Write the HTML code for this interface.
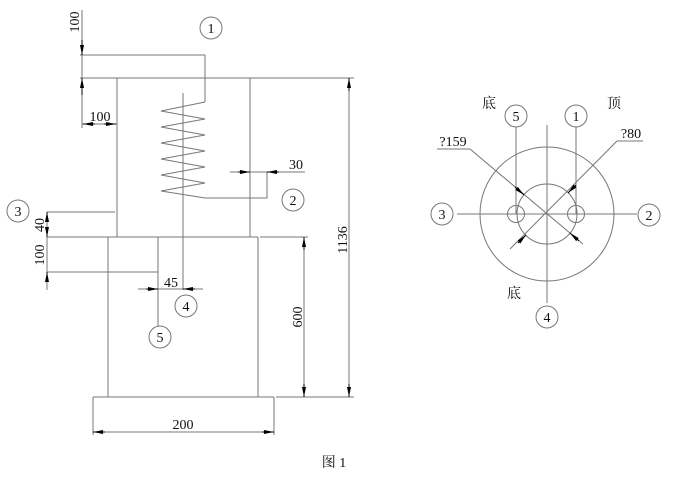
<!DOCTYPE html>
<html><head><meta charset="utf-8"><style>
html,body{margin:0;padding:0;background:#fff;}
svg{display:block;}
text{font-family:"Liberation Serif","Noto Serif CJK SC",serif;fill:#111;font-size:14px;}
</style></head><body>
<svg width="684" height="484" viewBox="0 0 684 484" xmlns="http://www.w3.org/2000/svg">
<defs>
<marker id="a" viewBox="0 0 10 4" refX="10" refY="2" markerWidth="10" markerHeight="4" orient="auto" markerUnits="userSpaceOnUse"><path d="M0,0 L10,2 L0,4 z" fill="#000"/></marker>
</defs>
<g stroke="#777" stroke-width="1" fill="none">
<line x1="117" y1="78" x2="117" y2="237"/><line x1="250" y1="78" x2="250" y2="237"/>
<line x1="80" y1="78" x2="354" y2="78"/>
<line x1="80" y1="55" x2="205" y2="55"/>
<line x1="205" y1="55" x2="205" y2="102"/>
<polyline points="205,102 161,111 205,119 161,127 205,135 161,143 205,151 161,159 205,167 161,175 205,183 161,191 205,198 267,198 267,172"/>
<line x1="183" y1="93" x2="183" y2="290"/>
<line x1="230" y1="172" x2="305" y2="172"/>
<line x1="47" y1="212" x2="115" y2="212"/>
<line x1="47" y1="237" x2="258" y2="237"/>
<line x1="260" y1="237" x2="308" y2="237"/>
<line x1="108" y1="237" x2="108" y2="397"/><line x1="258" y1="237" x2="258" y2="397"/>
<line x1="47" y1="272" x2="158" y2="272"/>
<line x1="158" y1="237" x2="158" y2="326"/>
<line x1="138" y1="289" x2="203" y2="289"/>
<line x1="93" y1="397" x2="274" y2="397"/>
<line x1="276" y1="397" x2="354" y2="397"/>
<line x1="93" y1="397" x2="93" y2="435"/><line x1="274" y1="397" x2="274" y2="435"/>
<line x1="82" y1="10" x2="82" y2="128"/>
<line x1="47" y1="212" x2="47" y2="290"/>
<line x1="304" y1="237" x2="304" y2="397"/>
<line x1="349" y1="78" x2="349" y2="397"/>
<line x1="82" y1="124" x2="117" y2="124"/>
<line x1="93" y1="432" x2="274" y2="432"/>
<circle cx="547" cy="214" r="67"/>
<circle cx="547" cy="214" r="30"/>
<circle cx="516" cy="214" r="8.5"/>
<circle cx="576" cy="214" r="8.5"/>
<line x1="457" y1="214" x2="637" y2="214"/>
<line x1="547" y1="125" x2="547" y2="303"/>
<line x1="516" y1="127" x2="516" y2="214"/>
<line x1="576" y1="127" x2="576" y2="214"/>
<line x1="643" y1="141" x2="617" y2="141"/>
<line x1="617" y1="141" x2="510" y2="249"/>
<line x1="437" y1="149" x2="470" y2="149"/>
<line x1="470" y1="149" x2="583" y2="244"/>
<circle cx="211" cy="28" r="11"/><circle cx="293" cy="200" r="11"/>
<circle cx="18" cy="211" r="11"/><circle cx="186" cy="306" r="11"/>
<circle cx="160" cy="337" r="11"/>
<circle cx="442" cy="214" r="11"/><circle cx="649" cy="215" r="11"/>
<circle cx="516" cy="116" r="11"/><circle cx="576" cy="116" r="11"/>
<circle cx="547" cy="317" r="11"/>
</g>
<g stroke="#000" stroke-width="1" fill="none">
<line x1="82" y1="40" x2="82" y2="55" marker-end="url(#a)"/>
<line x1="82" y1="95" x2="82" y2="78" marker-end="url(#a)"/>
<line x1="95" y1="124" x2="83" y2="124" marker-end="url(#a)"/>
<line x1="104" y1="124" x2="116" y2="124" marker-end="url(#a)"/>
<line x1="238" y1="172" x2="250" y2="172" marker-end="url(#a)"/>
<line x1="279" y1="172" x2="267" y2="172" marker-end="url(#a)"/>
<line x1="47" y1="220" x2="47" y2="212" marker-end="url(#a)"/>
<line x1="47" y1="228" x2="47" y2="237" marker-end="url(#a)"/>
<line x1="47" y1="280" x2="47" y2="272" marker-end="url(#a)"/>
<line x1="146" y1="289" x2="158" y2="289" marker-end="url(#a)"/>
<line x1="195" y1="289" x2="183" y2="289" marker-end="url(#a)"/>
<line x1="304" y1="250" x2="304" y2="237" marker-end="url(#a)"/>
<line x1="304" y1="384" x2="304" y2="397" marker-end="url(#a)"/>
<line x1="349" y1="91" x2="349" y2="78" marker-end="url(#a)"/>
<line x1="349" y1="384" x2="349" y2="397" marker-end="url(#a)"/>
<line x1="105" y1="432" x2="93" y2="432" marker-end="url(#a)"/>
<line x1="262" y1="432" x2="274" y2="432" marker-end="url(#a)"/>
<line x1="576" y1="185" x2="568" y2="193" marker-end="url(#a)"/>
<line x1="518" y1="243" x2="526" y2="235" marker-end="url(#a)"/>
<line x1="515" y1="187" x2="524" y2="195" marker-end="url(#a)"/>
<line x1="579" y1="241" x2="570" y2="233" marker-end="url(#a)"/>
</g>
<g text-anchor="middle">
<text x="211" y="33">1</text><text x="293" y="205">2</text><text x="18" y="216">3</text>
<text x="186" y="311">4</text><text x="160" y="342">5</text>
<text x="442" y="219">3</text><text x="649" y="220">2</text>
<text x="516" y="121">5</text><text x="576" y="121">1</text><text x="547" y="322">4</text>
<text x="100" y="121">100</text>
<text x="296" y="169">30</text>
<text x="171" y="287">45</text>
<text x="183" y="429">200</text>
<text transform="translate(79,22) rotate(-90)">100</text>
<text transform="translate(44,225) rotate(-90)">40</text>
<text transform="translate(44,255) rotate(-90)">100</text>
<text transform="translate(302,317) rotate(-90)">600</text>
<text transform="translate(347,240) rotate(-90)">1136</text>
<text x="453" y="146">?159</text>
<text x="631" y="138">?80</text>
<text x="489" y="108">底</text>
<text x="614" y="108">顶</text>
<text x="514" y="298">底</text>
<text x="334" y="467">图 1</text>
</g>
</svg>
</body></html>
